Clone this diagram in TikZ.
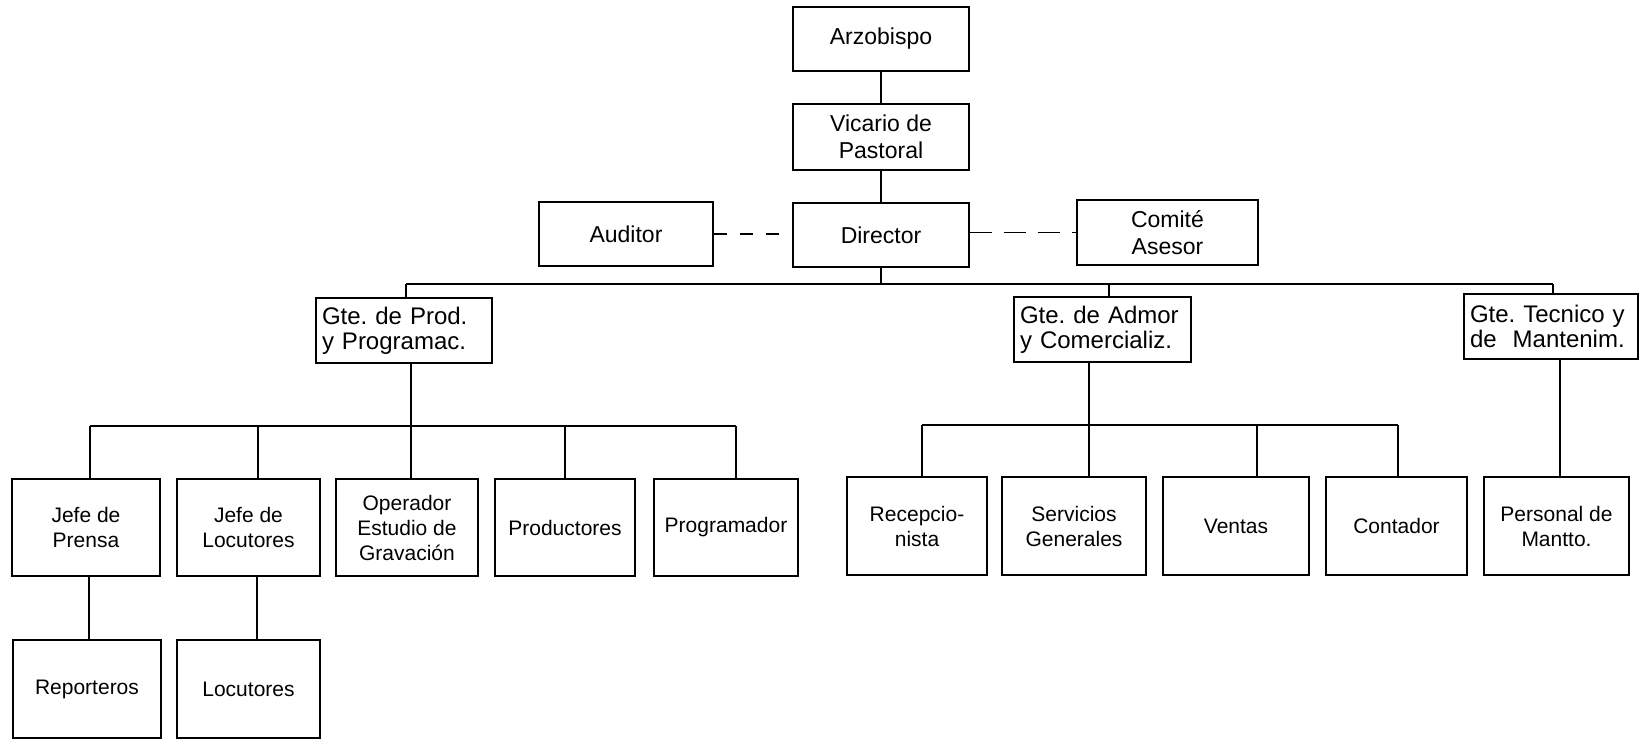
\documentclass[tikz,border=0pt]{standalone}
\usepackage{fontspec}
\setmainfont{Liberation Sans}
\frenchspacing
\begin{document}
\begin{tikzpicture}[x=1pt,y=-1pt,
  box/.style={draw, line width=1.1pt, inner sep=0pt, align=center, font=\fontsize{21}{25}\selectfont},
  topbox/.style={box, font=\fontsize{23}{27}\selectfont},
  gtebox/.style={draw, line width=1.1pt, inner xsep=6pt, inner ysep=0pt, align=left, font=\fontsize{24}{25}\selectfont},
  conn/.style={line width=1.1pt},
  dashA/.style={conn, dash pattern=on 13pt off 13pt},
  dashB/.style={conn, dash pattern=on 22pt off 12pt}]
\useasboundingbox (0,0) rectangle (1640,739);
% top chain
\node[topbox, minimum width=176pt, minimum height=64pt] (arz) at (881,39) {Arzobispo};
\node[topbox, minimum width=176pt, minimum height=66pt] (vic) at (881,137) {Vicario de\\Pastoral};
\node[topbox, minimum width=176pt, minimum height=64pt] (dir) at (881,235) {Director};
\node[topbox, minimum width=174pt, minimum height=64pt] (aud) at (626,234) {Auditor};
\node[topbox, minimum width=181pt, minimum height=65pt] (com) at (1167.5,232.5) {Comité\\Asesor};
% managers
\node[gtebox, text width=164pt, minimum height=65pt] (gp) at (404,330.5) {Gte. de Prod.\\y Programac.};
\node[gtebox, text width=165pt, minimum height=65pt] (ga) at (1102.5,329.5) {Gte. de Admor\\y Comercializ.};
\node[gtebox, text width=162pt, minimum height=65pt] (gt) at (1551,326.5) {Gte. Tecnico y\\de\ \ Mantenim.};
% left children
\node[box, minimum width=148pt, minimum height=97pt] (jp) at (86,527.5) {Jefe de\\Prensa};
\node[box, minimum width=143pt, minimum height=97pt] (jl) at (248.5,527.5) {Jefe de\\Locutores};
\node[box, minimum width=142pt, minimum height=97pt] (op) at (407,527.5) {Operador\\Estudio de\\Gravación};
\node[box, minimum width=140pt, minimum height=97pt] (pr) at (565,527.5) {Productores};
\node[box, minimum width=144pt, minimum height=97pt] (pg) at (726,527.5) {Programador};
% right children
\node[box, minimum width=140pt, minimum height=98pt] (rc) at (917,526) {Recepcio-\\nista};
\node[box, minimum width=144pt, minimum height=98pt] (sg) at (1074,526) {Servicios\\Generales};
\node[box, minimum width=146pt, minimum height=98pt] (ve) at (1236,526) {Ventas};
\node[box, minimum width=141pt, minimum height=98pt] (co) at (1396.5,526) {Contador};
\node[box, minimum width=145pt, minimum height=98pt] (pm) at (1556.5,526) {Personal de\\Mantto.};
% bottom row
\node[box, minimum width=148pt, minimum height=98pt] (rep) at (87,689) {Reporteros};
\node[box, minimum width=143pt, minimum height=98pt] (loc) at (248.5,689) {Locutores};

% top connectors
\draw[conn] (arz) -- (vic);
\draw[conn] (vic) -- (dir);
\draw[dashA] (aud.east) -- (aud.east -| dir.west);
\draw[dashB] (dir.east |- com.west) -- (com.west);

% main bus
\coordinate (b1) at (406,284);
\coordinate (b2) at (1109,284);
\coordinate (b3) at (1553,284);
\draw[conn] (b1) -- (b3);
\draw[conn] (dir.south) -- (dir.south |- b1);
\draw[conn] (b1) -- (b1 |- gp.north);
\draw[conn] (b2) -- (b2 |- ga.north);
\draw[conn] (b3) -- (b3 |- gt.north);

% left sub-bus
\coordinate (l0) at (411,426);
\coordinate (l1) at (90,426);
\coordinate (l2) at (258,426);
\coordinate (l4) at (565,426);
\coordinate (l5) at (736,426);
\draw[conn] (l1) -- (l5);
\draw[conn] (l0 |- gp.south) -- (l0 |- op.north);
\draw[conn] (l1) -- (l1 |- jp.north);
\draw[conn] (l2) -- (l2 |- jl.north);
\draw[conn] (l4) -- (l4 |- pr.north);
\draw[conn] (l5) -- (l5 |- pg.north);

% right sub-bus
\coordinate (r0) at (1089,425);
\coordinate (r1) at (922,425);
\coordinate (r3) at (1257,425);
\coordinate (r4) at (1398,425);
\draw[conn] (r1) -- (r4);
\draw[conn] (r0 |- ga.south) -- (r0 |- sg.north);
\draw[conn] (r1) -- (r1 |- rc.north);
\draw[conn] (r3) -- (r3 |- ve.north);
\draw[conn] (r4) -- (r4 |- co.north);

% technical
\coordinate (t0) at (1560,400);
\draw[conn] (t0 |- gt.south) -- (t0 |- pm.north);

% bottom
\coordinate (d1) at (89,600);
\coordinate (d2) at (257,600);
\draw[conn] (d1 |- jp.south) -- (d1 |- rep.north);
\draw[conn] (d2 |- jl.south) -- (d2 |- loc.north);
\end{tikzpicture}
\end{document}
